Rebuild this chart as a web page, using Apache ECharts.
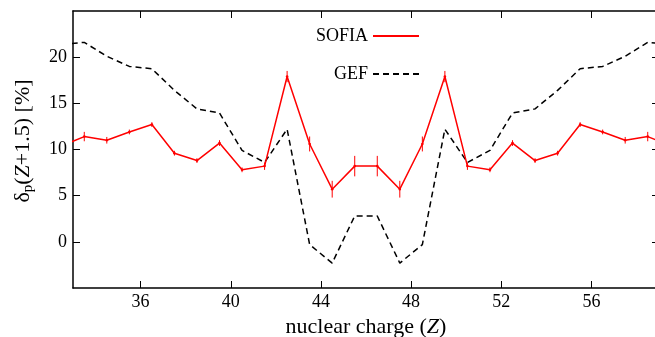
<!DOCTYPE html>
<html>
<head>
<meta charset="utf-8">
<script src="https://cdn.jsdelivr.net/npm/echarts@6/dist/echarts.min.js"></script>
<style>
  html, body { margin: 0; padding: 0; background: #fff; }
  #main { width: 655px; height: 337px; }
</style>
</head>
<body>
<div id="main"></div>
<script type="text/javascript">
// nuclear charge positions (Z+0.5)
var zVals = [32.5, 33.5, 34.5, 35.5, 36.5, 37.5, 38.5, 39.5, 40.5, 41.5, 42.5, 43.5, 44.5, 45.5,
             46.5, 47.5, 48.5, 49.5, 50.5, 51.5, 52.5, 53.5, 54.5, 55.5, 56.5, 57.5, 58.5, 59.5];
var sofia = [10.4, 11.4, 11.0, 11.9, 12.7, 9.6, 8.8, 10.7, 7.8, 8.2, 17.9, 10.6, 5.7, 8.2,
             8.2, 5.7, 10.6, 17.9, 8.2, 7.8, 10.7, 8.8, 9.6, 12.7, 11.9, 11.0, 11.4, 10.4];
var sofiaErr = [0.2, 0.4, 0.25, 0.15, 0.15, 0.15, 0.15, 0.2, 0.15, 0.3, 0.5, 0.7, 0.8, 1.0,
                1.0, 0.8, 0.7, 0.5, 0.3, 0.15, 0.2, 0.15, 0.15, 0.15, 0.15, 0.25, 0.4, 0.2];
var gef = [21.4, 21.6, 20.1, 19.0, 18.75, 16.4, 14.4, 13.95, 9.9, 8.6, 12.2, -0.3, -2.3, 2.8,
           2.8, -2.3, -0.3, 12.2, 8.6, 9.9, 13.95, 14.4, 16.4, 18.75, 19.0, 20.1, 21.6, 21.4];
var xTicks = [36, 40, 44, 48, 52, 56];
var yTicks = [0, 5, 10, 15, 20];

var sofiaData = [], gefData = [], errData = [];
for (var i = 0; i < zVals.length; i++) {
  sofiaData.push([zVals[i], sofia[i]]);
  gefData.push([zVals[i], gef[i]]);
  errData.push([zVals[i], sofia[i] - sofiaErr[i], sofia[i] + sofiaErr[i], sofia[i]]);
}

var font = 'Liberation Serif';
var chart = echarts.init(document.getElementById('main'));

function frameAxis(pos, isX) {
  var ax = {
    type: 'value', position: pos,
    splitLine: { show: false },
    axisLine: { show: true, onZero: false, lineStyle: { color: '#000', width: 1.5 } },
    axisTick: { show: true, inside: true, length: 7, customValues: isX ? xTicks : yTicks,
                lineStyle: { color: '#000', width: 1 } },
    axisLabel: { show: false }
  };
  if (isX) { ax.min = 33; ax.max = 59; } else { ax.min = -5; ax.max = 25; ax.interval = 5; }
  return ax;
}

var xBottom = frameAxis('bottom', true);
xBottom.name = '{a|nuclear charge (}{i|Z}{a|)}';
xBottom.nameLocation = 'middle';
xBottom.nameGap = 25;
xBottom.nameTextStyle = { rich: {
  a: { fontFamily: font, fontSize: 22, color: '#000' },
  i: { fontFamily: font, fontSize: 22, fontStyle: 'italic', color: '#000' }
} };
xBottom.axisLabel = { show: true, customValues: xTicks, fontFamily: font, fontSize: 18, color: '#000', margin: 5 };

var yLeft = frameAxis('left', false);
yLeft.name = '{a|δ}{s|p}{a|(}{i|Z}{a|+1.5) [%]}';
yLeft.nameLocation = 'middle';
yLeft.nameGap = 37;
yLeft.nameRotate = 90;
yLeft.nameTextStyle = { padding: [0, 0, 0, 17], rich: {
  a: { fontFamily: font, fontSize: 22, color: '#000' },
  s: { fontFamily: font, fontSize: 15, color: '#000', padding: [11, 0, 0, 0] },
  i: { fontFamily: font, fontSize: 22, fontStyle: 'italic', color: '#000' }
} };
yLeft.axisLabel = { show: true, customValues: yTicks, fontFamily: font, fontSize: 18, color: '#000', margin: 6 };

var legendText = { fontFamily: font, fontSize: 18, color: '#000' };

var option = {
  animation: false,
  backgroundColor: '#fff',
  grid: { left: 73, right: -4, top: 11, bottom: 49, outerBoundsMode: 'none', containLabel: false },
  legend: [
    { data: ['SOFIA'], orient: 'vertical', align: 'right', right: 230, top: 22,
      itemWidth: 46, itemHeight: 14, itemStyle: { opacity: 0 }, textStyle: legendText },
    { data: ['GEF'], orient: 'vertical', align: 'right', right: 230, top: 60,
      itemWidth: 46, itemHeight: 14, itemStyle: { opacity: 0 }, textStyle: legendText }
  ],
  xAxis: [xBottom, frameAxis('top', true)],
  yAxis: [yLeft, frameAxis('right', false)],
  series: [{
    name: 'SOFIA', type: 'line', data: sofiaData,
    symbol: 'none',
    itemStyle: { color: '#ff0000' },
    lineStyle: { color: '#ff0000', width: 1.5 },
    z: 3
  }, {
    name: 'GEF', type: 'line', data: gefData,
    symbol: 'none',
    itemStyle: { color: '#000' },
    lineStyle: { color: '#000', width: 1.5, type: [6, 4] },
    z: 2
  }, {
    name: 'SOFIA err', type: 'custom', data: errData,
    renderItem: function (params, api) {
      var lo = api.coord([api.value(0), api.value(1)]);
      var hi = api.coord([api.value(0), api.value(2)]);
      var mid = api.coord([api.value(0), api.value(3)]);
      return {
        type: 'group',
        children: [{
          type: 'line',
          shape: { x1: lo[0], y1: lo[1] + 1, x2: hi[0], y2: hi[1] - 1 },
          style: { stroke: '#ff0000', lineWidth: 1 }
        }, {
          type: 'circle',
          shape: { cx: mid[0], cy: mid[1], r: 1.3 },
          style: { fill: '#ff0000' }
        }]
      };
    },
    encode: { x: 0, y: [1, 2] },
    clip: true,
    z: 4
  }]
};
chart.setOption(option);
</script>
</body>
</html>
